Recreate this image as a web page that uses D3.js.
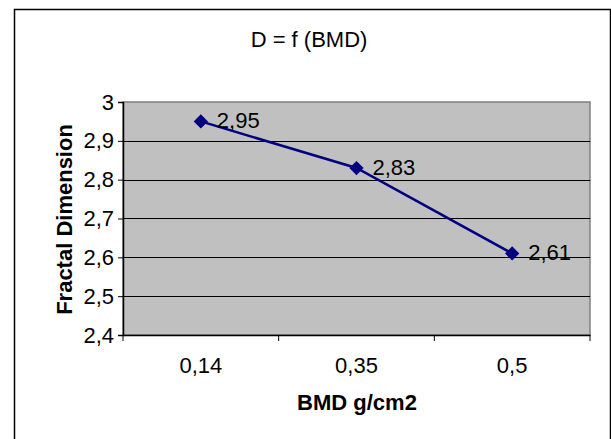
<!DOCTYPE html>
<html>
<head>
<meta charset="utf-8">
<script src="https://cdn.jsdelivr.net/npm/d3@7"></script>
<style>
  body { margin: 0; background: #fff; }
  svg { display: block; font-family: Arial, "Liberation Sans", sans-serif; }
</style>
</head>
<body>
<div id="chart"></div>
<script>
const categories = ["0,14", "0,35", "0,5"];
const dimension = [2.95, 2.83, 2.61];
const yTicks = [2.4, 2.5, 2.6, 2.7, 2.8, 2.9, 3];

const svgWidth = 611;
const svgHeight = 439;
const plot = { left: 123, top: 102, right: 590, bottom: 335 };
const fontSize = 22;
const fmt = v => String(v).replace(".", ",");

const svg = d3.select("#chart")
    .append("svg")
    .attr("width", svgWidth)
    .attr("height", svgHeight);

// chart frame
svg.append("rect")
    .attr("x", 14.5).attr("y", 9.5)
    .attr("width", 596).attr("height", 440)
    .attr("fill", "#fff")
    .attr("stroke", "#000").attr("stroke-width", 1.5);

const x = d3.scaleBand().domain(categories).range([plot.left, plot.right]);
const y = d3.scaleLinear().domain([2.4, 3]).range([plot.bottom, plot.top]);

// plot area
svg.append("rect")
    .attr("x", plot.left).attr("y", plot.top)
    .attr("width", plot.right - plot.left).attr("height", plot.bottom - plot.top)
    .attr("fill", "#c0c0c0")
    .attr("stroke", "#808080").attr("stroke-width", 1.5);

// gridlines
svg.append("g").selectAll("line")
    .data(yTicks.filter(t => t > 2.4 && t < 3))
    .enter().append("line")
    .attr("x1", plot.left).attr("x2", plot.right)
    .attr("y1", d => Math.round(y(d)) + 0.5).attr("y2", d => Math.round(y(d)) + 0.5)
    .attr("stroke", "#000").attr("stroke-width", 1);

// y axis
const yAxis = svg.append("g")
    .attr("transform", `translate(${plot.left},0)`)
    .call(d3.axisLeft(y).tickValues(yTicks).tickFormat(fmt).tickSize(5).tickPadding(4));
yAxis.select(".domain").attr("stroke", "#000").attr("stroke-width", 1.5);
yAxis.selectAll("text").attr("font-size", fontSize).attr("fill", "#000")
    .attr("font-family", "Arial, 'Liberation Sans', sans-serif");

// x axis
const xAxis = svg.append("g")
    .attr("transform", `translate(0,${plot.bottom})`)
    .call(d3.axisBottom(x).tickSize(0).tickPadding(22));
xAxis.select(".domain").attr("stroke", "#000").attr("stroke-width", 1.5);
xAxis.selectAll("text").attr("font-size", fontSize).attr("fill", "#000")
    .attr("font-family", "Arial, 'Liberation Sans', sans-serif");

// tick marks at category boundaries
const bounds = categories.map(c => x(c)).concat([x(categories[categories.length - 1]) + x.bandwidth()]);
svg.append("g").selectAll("line")
    .data(bounds)
    .enter().append("line")
    .attr("x1", d => d).attr("x2", d => d)
    .attr("y1", plot.bottom).attr("y2", plot.bottom + 6)
    .attr("stroke", "#000").attr("stroke-width", 1);

// series line
const cx = c => x(c) + x.bandwidth() / 2;
const pts = categories.map((c, i) => [cx(c), y(dimension[i])]);
svg.append("path")
    .attr("d", d3.line()(pts))
    .attr("fill", "none")
    .attr("stroke", "#000080").attr("stroke-width", 2.5);

// markers
svg.append("g").selectAll("path")
    .data(pts)
    .enter().append("path")
    .attr("transform", d => `translate(${d[0]},${d[1]})`)
    .attr("d", d3.symbol().type(d3.symbolDiamond2).size(130))
    .attr("fill", "#000080");

// data labels
svg.append("g").selectAll("text")
    .data(pts)
    .enter().append("text")
    .attr("x", d => d[0] + 16)
    .attr("y", d => d[1] + 7)
    .attr("font-size", fontSize)
    .text((d, i) => fmt(dimension[i]));

// title and axis titles
svg.append("text")
    .attr("x", 309).attr("y", 47)
    .attr("text-anchor", "middle")
    .attr("font-size", fontSize)
    .text("D = f (BMD)");

svg.append("text")
    .attr("x", 357).attr("y", 410)
    .attr("text-anchor", "middle")
    .attr("font-size", fontSize).attr("font-weight", "bold")
    .text("BMD g/cm2");

svg.append("text")
    .attr("transform", `translate(72,${(plot.top + plot.bottom) / 2 + 1}) rotate(-90)`)
    .attr("text-anchor", "middle")
    .attr("font-size", fontSize).attr("font-weight", "bold")
    .text("Fractal Dimension");
</script>
</body>
</html>
